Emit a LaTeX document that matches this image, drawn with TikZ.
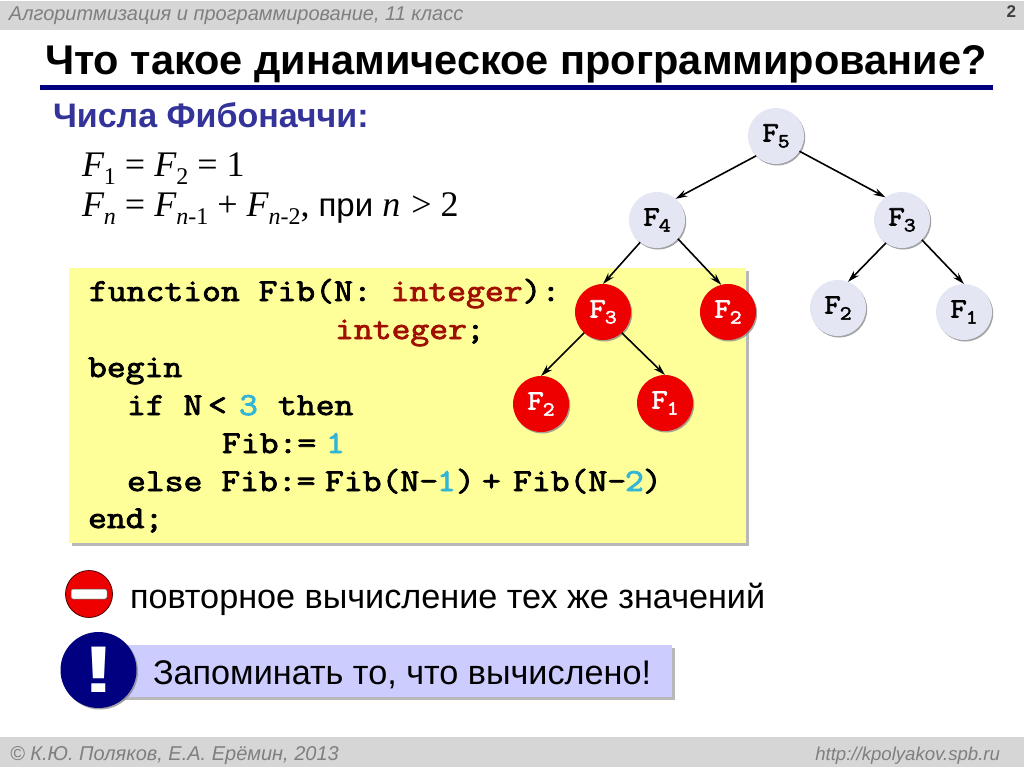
\documentclass[tikz,border=0pt]{standalone}
\usepackage{fontspec}
\setmainfont{Liberation Sans}
\newfontfamily\serifrm{Liberation Serif}
\newfontfamily\monob[FakeStretch=1.144,FakeBold=2.6]{Latin Modern Mono}
\usetikzlibrary{arrows.meta,shadows}
\definecolor{barg}{HTML}{D6D6D6}
\definecolor{bart}{HTML}{7F7F7F}
\definecolor{rulec}{HTML}{000080}
\definecolor{subc}{HTML}{333399}
\definecolor{yell}{HTML}{FFFF99}
\definecolor{kwr}{HTML}{A01000}
\definecolor{numc}{HTML}{33B5D5}
\definecolor{nodeg}{HTML}{E4E6F4}
\definecolor{redn}{HTML}{EE0000}
\definecolor{navyc}{HTML}{000080}
\definecolor{lblue}{HTML}{CCCCFF}
\newcommand{\fz}[1]{\fontsize{#1}{#1}\selectfont}
\newcommand{\Fn}[1]{{\monob\fz{28}F\raisebox{-6pt}{\fz{20}\hspace{-1pt}#1}}}
\newcommand{\Sm}[1]{\raisebox{-8pt}{\fz{24}#1}}
\tikzset{
 x=1pt,y=-1pt,
 txt/.style={inner sep=0,outer sep=0,anchor=base west},
 code/.style={txt,font=\monob\fz{32}},
 fnode/.style={circle,minimum size=56pt,inner sep=0,outer sep=0,fill=nodeg,text=black,
   drop shadow={shadow xshift=1.2pt,shadow yshift=-1.5pt,fill=black!45,opacity=.8}},
 rnode/.style={fnode,fill=redn,text=white},
 arr/.style={-{Stealth[length=12pt,width=7pt]},line width=1.6pt,black},
 bar/.style={fill=barg,draw=none},
 note/.style={txt,font=\fz{34.2},text=black},
}
\begin{document}
\begin{tikzpicture}
\useasboundingbox (0,0) rectangle (1024,767);
\fill[white] (0,0) rectangle (1024,767);
% bars
\fill[bar] (0,1) rectangle (1024,30);
\fill[bar] (0,737) rectangle (1024,767);
\node[txt,font=\itshape\fz{20},text=bart] (hdr) at (9,21) {Алгоритмизация и программирование, 11 класс};
\node[txt,font=\bfseries\fz{17},text=black!75,anchor=base east] (pg) at (1016,18) {2};
\node[txt,font=\itshape\fz{20},text=bart] (ftr) at (10,760) {© К.Ю. Поляков, Е.А. Ерёмин, 2013};
\node[txt,font=\itshape\fz{18.6},text=bart,anchor=base east] (url) at (1000,760) {http://kpolyakov.spb.ru};
% title
\node[txt,font=\bfseries\fz{41.5}] (title) at (45,75) {Что такое динамическое программирование?};
\fill[rulec] (40,85) rectangle (993,90);
\node[txt,font=\bfseries\fz{34},text=subc] (sub) at (53,128) {Числа Фибоначчи:};
% formulas
\node[txt,font=\serifrm\fz{36}] (f1) at (82,177) {\itshape F\Sm{\upshape 1}\upshape{} = \itshape F\Sm{\upshape 2}\upshape{} = 1};
\node[txt,font=\serifrm\fz{36}] (f2) at (82,217) {\itshape F\Sm{n}\upshape{} = \itshape F\Sm{n\upshape -1}\upshape{} + \itshape F\Sm{n\upshape -2}\upshape,\ {\fontspec{Liberation Sans}\fz{33}при }\itshape n\upshape\hspace{2pt} > 2};
% code box
\fill[black!28] (72,271) rectangle (748.5,546);
\fill[yell] (69,268) rectangle (746,543);
\node[code] (c1a) at (89,301) {function Fib(N: \textcolor{kwr}{integer}):};
\node[code,text=kwr] (c2a) at (335,339) {integer};
\node[code] (c2b) at (466,339) {;};
\node[code] (c3a) at (88,377) {begin};
\node[code] (c4a) at (127,415) {if N};
\node[code] (c4b) at (208,415) {<};
\node[code,text=numc] (c4c) at (239,415) {3};
\node[code] (c4d) at (278,415) {then};
\node[code] (c5a) at (222,453) {Fib:=};
\node[code,text=numc] (c5b) at (326,453) {1};
\node[code] (c6a) at (127,491) {else Fib:=};
\node[code] (c6b) at (325,491) {Fib(N-};
\node[code,text=numc] (c6c) at (437,491) {1};
\node[code] (c6d) at (456,491) {)};
\node[code] (c6e) at (482,491) {+};
\node[code] (c6f) at (513,491) {Fib(N-};
\node[code,text=numc] (c6g) at (625,491) {2};
\node[code] (c6h) at (643,491) {)};
\node[code] (c7a) at (88,528) {end;};
% tree
\node[fnode] (n5) at (776,136) {\Fn{5}};
\node[fnode] (n4) at (657,220) {\Fn{4}};
\node[fnode] (n3) at (902,220) {\Fn{3}};
\node[fnode] (n22) at (838,308) {\Fn{2}};
\node[fnode] (n21) at (964,312) {\Fn{1}};
\node[rnode] (r3) at (603,312) {\Fn{3}};
\node[rnode] (r2) at (728,312) {\Fn{2}};
\node[rnode] (r22) at (541,404) {\Fn{2}};
\node[rnode] (r1) at (665,403) {\Fn{1}};
\draw[arr] (n5.225) -- (n4.49);
\draw[arr] (n5.-33) -- (n3.126);
\draw[arr] (n4.233) -- (r3.90);
\draw[arr] (n4.-42) -- (r2.104);
\draw[arr] (n3.235) -- (n22.69);
\draw[arr] (n3.-45) -- (n21.90);
\draw[arr] (r3.228) -- (r22.90);
\draw[arr] (r3.-48) -- (r1.90);
% stop sign
\node[circle,minimum size=47pt,inner sep=0,fill=redn,draw=black!70!red,line width=.8pt] (stop) at (89,594) {};
\fill[white,draw=black!70,line width=.5pt,rounded corners=2pt] (71,589) rectangle (107,599);
\node[note] (n1) at (130,608) {повторное вычисление тех же значений};
% remember box
\fill[black!28] (120,648) rectangle (675,699.5);
\fill[lblue] (117,645) rectangle (672,697);
\node[circle,minimum size=76pt,inner sep=0,fill=navyc,
  drop shadow={shadow xshift=1.5pt,shadow yshift=-1.5pt,fill=black!45,opacity=.8}] (warn) at (98.5,670) {};
\node[font=\bfseries\fz{66},text=white,inner sep=0] (bang) at (warn) {\scalebox{1.5}[1]{!}};
\node[note] (n2) at (153,684) {Запоминать то, что вычислено!};
\end{tikzpicture}
\end{document}
